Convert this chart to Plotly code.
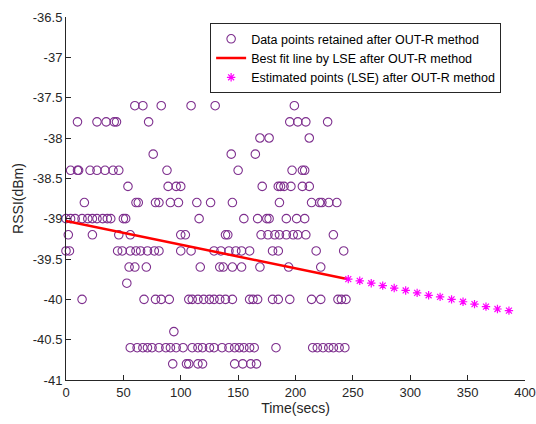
import plotly.graph_objects as go

# Retained data points, grouped by RSSI level (dBm): times in seconds
t_m37_6 = [60, 67, 83, 109, 130, 199]
t_m37_8 = [10, 27, 35, 42, 44, 72, 195, 202, 209, 228]
t_m38_0 = [169, 177, 212]
t_m38_2 = [76, 144, 165]
t_m38_4 = [4, 10, 11, 21, 27, 34, 41, 46, 88, 150, 197, 206, 208]
t_m38_6 = [54, 89, 96, 100, 171, 185, 187, 190, 196, 206, 212]
t_m38_8 = [16, 61, 63, 78, 81, 91, 98, 114, 126, 145, 186, 214, 221, 223, 229, 236]
t_m39_0 = [0, 4, 8, 14, 19, 23, 27, 32, 36, 39, 50, 52, 116, 155, 167, 175, 177, 192, 201, 208]
t_m39_2 = [2, 23, 46, 56, 100, 104, 139, 141, 170, 176, 182, 186, 192, 198, 202, 209, 233]
t_m39_4 = [0, 3, 45, 49, 56, 61, 65, 71, 77, 81, 100, 109, 129, 135, 142, 148, 153, 160, 180, 185, 218, 242]
t_m39_6 = [55, 60, 70, 117, 134, 137, 145, 153, 169, 194, 222]
t_m39_8 = [53]
t_m40_0 = [14, 68, 78, 83, 90, 107, 110, 115, 120, 125, 129, 134, 139, 145, 160, 163, 167, 180, 185, 195, 214, 222, 237, 240, 244]
t_m40_4 = [94]
t_m40_6 = [56, 62, 67, 71, 75, 81, 87, 91, 96, 102, 110, 115, 119, 125, 129, 136, 142, 147, 151, 155, 160, 164, 183,
           215, 219, 224, 229, 233, 238, 243]
t_m40_8 = [93, 105, 107, 115, 119, 147, 154, 161, 166]

levels = [-37.6, -37.8, -38.0, -38.2, -38.4, -38.6, -38.8, -39.0, -39.2, -39.4, -39.6, -39.8, -40.0, -40.4, -40.6, -40.8]
level_times = [t_m37_6, t_m37_8, t_m38_0, t_m38_2, t_m38_4, t_m38_6, t_m38_8, t_m39_0, t_m39_2, t_m39_4,
               t_m39_6, t_m39_8, t_m40_0, t_m40_4, t_m40_6, t_m40_8]

# Best fit line (LSE)
fit_t = [0, 246]
fit_rssi = [-39.03, -39.75]

# Estimated points (LSE)
est_t = [246, 256, 266, 276, 286, 296, 306, 316, 326, 336, 346, 356, 366, 376, 386]
est_rssi = [-39.75, -39.77, -39.80, -39.83, -39.86, -39.89, -39.92, -39.95, -39.97, -40.00,
            -40.03, -40.06, -40.09, -40.12, -40.14]

# Tick labels
x_ticks = [0, 50, 100, 150, 200, 250, 300, 350, 400]
x_ticktext = ["0", "50", "100", "150", "200", "250", "300", "350", "400"]
y_ticks = [-36.5, -37, -37.5, -38, -38.5, -39, -39.5, -40, -40.5, -41]
y_ticktext = ["-36.5", "-37", "-37.5", "-38", "-38.5", "-39", "-39.5", "-40", "-40.5", "-41"]

time_s = []
rssi_dbm = []
for lv, ts in zip(levels, level_times):
    for t in ts:
        time_s.append(t)
        rssi_dbm.append(lv)

purple = "#7E2F8E"

fig = go.Figure()
fig.add_trace(go.Scatter(
    x=time_s, y=rssi_dbm, mode="markers", name="Data points retained after OUT-R method",
    marker=dict(symbol="circle-open", size=8.5, color=purple, line=dict(width=1.1, color=purple)),
    cliponaxis=False,
))
fig.add_trace(go.Scatter(
    x=fit_t, y=fit_rssi, mode="lines", name="Best fit line by LSE after OUT-R method",
    line=dict(color="#FF0000", width=2.5),
))
fig.add_trace(go.Scatter(
    x=est_t, y=est_rssi, mode="markers", name="Estimated points (LSE) after OUT-R method",
    marker=dict(symbol="asterisk-open", size=7, color="#FF00FF", line=dict(width=1.2, color="#FF00FF")),
    cliponaxis=False,
))

axis_common = dict(
    showgrid=False, zeroline=False, showline=True, linecolor="#262626", linewidth=1,
    ticks="inside", ticklen=5, tickcolor="#262626", mirror=False, automargin=False,
    tickfont=dict(family="Liberation Sans, Arial", size=13, color="#262626"),
)

fig.update_layout(
    width=536, height=424,
    margin=dict(l=66, r=11, t=17, b=44),
    paper_bgcolor="white", plot_bgcolor="white",
    font=dict(family="Liberation Sans, Arial", size=13, color="#262626"),
    xaxis=dict(range=[0, 400], tickvals=x_ticks, ticktext=x_ticktext,
               title=dict(text="Time(secs)", font=dict(size=14), standoff=3), **axis_common),
    yaxis=dict(range=[-41, -36.5], tickvals=y_ticks, ticktext=y_ticktext,
               title=dict(text="RSSI(dBm)", font=dict(size=14), standoff=5), **axis_common),
    legend=dict(x=0.314, y=0.983, xanchor="left", yanchor="top",
                bgcolor="white", bordercolor="#262626", borderwidth=1,
                font=dict(family="Liberation Sans, Arial", size=12.5, color="#000000"),
                tracegroupgap=0, itemsizing="trace"),
    showlegend=True,
)

fig.write_html("out.html")
